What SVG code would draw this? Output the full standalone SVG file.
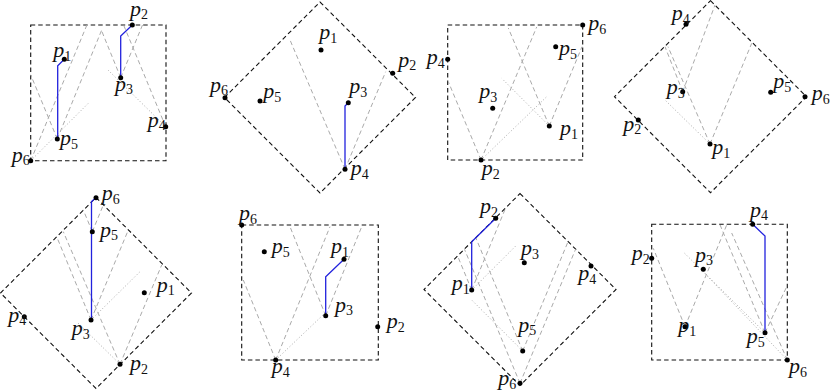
<svg xmlns="http://www.w3.org/2000/svg" width="830" height="391" viewBox="0 0 830 391">
<style>
.fr{fill:none;stroke:#111;stroke-width:1.1;stroke-dasharray:4.5 3}
.ds{fill:none;stroke:#aaa;stroke-width:1;stroke-dasharray:4.5 3}
.dt{fill:none;stroke:#aaa;stroke-width:1;stroke-dasharray:1 2.2}
.bl{fill:none;stroke:#2222dd;stroke-width:1.3}
.pt{fill:#000}
.lb{font-family:"Liberation Serif",serif;font-style:italic;font-size:22px;fill:#111}
.sub{font-style:normal;font-size:14px}
</style>
<rect width="830" height="391" fill="#fff"/>
<g id="frames">
<rect class="fr" x="30.7" y="25" width="135.3" height="135.7"/>
<polygon class="fr" points="320,2 415.5,97.5 320,193 224.5,97.5"/>
<rect class="fr" x="447.7" y="25" width="135" height="135"/>
<polygon class="fr" points="710.5,0.7 806.5,96.7 710.5,192.7 614.5,96.7"/>
<polygon class="fr" points="96,197.5 191.5,293 96,388.5 0.5,293"/>
<rect class="fr" x="241.7" y="225" width="136.6" height="135"/>
<polygon class="fr" points="520,193.5 616,289.5 520,385.5 424,289.5"/>
<rect class="fr" x="651.7" y="224.3" width="135.6" height="135.7"/>
</g>
<g id="connectors">
<path class="ds" d="M57.3,139L30.7,74.8M57.3,139L101.5,30.5M120.7,77.7L101.5,30.5M120.7,77.7L142.5,25M165.7,126.7L123.6,25M30.7,160.7L86.9,25"/>
<path class="dt" d="M30.7,160.7L88.3,103.3M165.7,126.7L108,70"/>
<path class="bl" d="M64.3,59.3L57.7,65.7L57.7,139M132.3,25L120.7,36L120.7,77.7"/>
<path class="ds" d="M345,169.3L290,40M345,169.3L385.7,71.7"/>
<path class="bl" d="M348.3,102.7L345,106L345,169.3"/>
<path class="ds" d="M481,160L448.3,81.7M481,160L536.7,27M549.3,126L508.3,28M549.3,126L582,46.7"/>
<path class="dt" d="M481,160L546.7,96.7M549.3,126L501.7,78.3"/>
<path class="ds" d="M682.7,91.7L665,46.7M682.7,91.7L715,5M710,144L668,46.7M710,144L751.7,43.3"/>
<path class="dt" d="M710,144L665,100"/>
<path class="ds" d="M91,320L56.7,236.7M91,320L128.3,230M120,364.3L63.3,231.7M120,364.3L161.7,265M92.3,231.7L83.2,209.8M92.3,231.7L103.2,205.3"/>
<path class="dt" d="M91,320L140,271.7M120,364.3L76.7,321.7"/>
<path class="bl" d="M96,197.7L91.5,201.5L91.5,320"/>
<path class="ds" d="M275.7,360L243.3,280M275.7,360L330,226.7M325.7,315.7L290,226.7M325.7,315.7L361.7,226.7"/>
<path class="dt" d="M275.7,360L324,314"/>
<path class="bl" d="M344,259.3L325.7,276.7L325.7,315.7"/>
<path class="ds" d="M520,383.3L464.5,249.3M520,383.3L575.5,249.4M522.7,351L475.9,238M522.7,351L567.9,242M471.7,290L457.6,256M471.7,290L505.6,208.1"/>
<path class="dt" d="M471.7,290L516.7,245M522.7,351L472,300.3"/>
<path class="bl" d="M495.7,218.3L471.7,241.7L471.7,290"/>
<path class="ds" d="M685,326.7L653.3,248.3M685,326.7L726.7,225M765,332.7L720.1,225M765,332.7L786.7,286.7M787.3,360L731.7,233"/>
<path class="dt" d="M765,332.7L684,252.7M787.3,360L703.5,272"/>
<path class="bl" d="M752.7,224.3L765,236L765,332.7"/>
</g>
<g id="a-p1"><circle class="pt" cx="64.3" cy="59.3" r="2.5"/><text class="lb" x="53.3" y="57">p<tspan class="sub" dy="3.5">1</tspan></text></g>
<g id="a-p2"><circle class="pt" cx="132.3" cy="25" r="2.5"/><text class="lb" x="130" y="15.5">p<tspan class="sub" dy="3.5">2</tspan></text></g>
<g id="a-p3"><circle class="pt" cx="120.7" cy="77.7" r="2.5"/><text class="lb" x="115" y="90.5">p<tspan class="sub" dy="3.5">3</tspan></text></g>
<g id="a-p4"><circle class="pt" cx="165.7" cy="126.7" r="2.5"/><text class="lb" x="147.7" y="126.7">p<tspan class="sub" dy="3.5">4</tspan></text></g>
<g id="a-p5"><circle class="pt" cx="57.3" cy="139" r="2.5"/><text class="lb" x="60" y="145">p<tspan class="sub" dy="3.5">5</tspan></text></g>
<g id="a-p6"><circle class="pt" cx="30.7" cy="160.7" r="2.5"/><text class="lb" x="11.7" y="161.7">p<tspan class="sub" dy="3.5">6</tspan></text></g>
<g id="b-p1"><circle class="pt" cx="321" cy="50" r="2.5"/><text class="lb" x="319.3" y="39">p<tspan class="sub" dy="3.5">1</tspan></text></g>
<g id="b-p2"><circle class="pt" cx="392.7" cy="73.3" r="2.5"/><text class="lb" x="398.3" y="66.7">p<tspan class="sub" dy="3.5">2</tspan></text></g>
<g id="b-p3"><circle class="pt" cx="348.3" cy="102.7" r="2.5"/><text class="lb" x="349.3" y="93.3">p<tspan class="sub" dy="3.5">3</tspan></text></g>
<g id="b-p4"><circle class="pt" cx="345" cy="169.3" r="2.5"/><text class="lb" x="350.7" y="175">p<tspan class="sub" dy="3.5">4</tspan></text></g>
<g id="b-p5"><circle class="pt" cx="260" cy="101" r="2.5"/><text class="lb" x="263.3" y="98.3">p<tspan class="sub" dy="3.5">5</tspan></text></g>
<g id="b-p6"><circle class="pt" cx="225" cy="97.7" r="2.5"/><text class="lb" x="210" y="91.7">p<tspan class="sub" dy="3.5">6</tspan></text></g>
<g id="c-p1"><circle class="pt" cx="549.3" cy="126" r="2.5"/><text class="lb" x="560" y="135">p<tspan class="sub" dy="3.5">1</tspan></text></g>
<g id="c-p2"><circle class="pt" cx="481" cy="160" r="2.5"/><text class="lb" x="481.7" y="175">p<tspan class="sub" dy="3.5">2</tspan></text></g>
<g id="c-p3"><circle class="pt" cx="492.7" cy="108.3" r="2.5"/><text class="lb" x="479.3" y="98.3">p<tspan class="sub" dy="3.5">3</tspan></text></g>
<g id="c-p4"><circle class="pt" cx="447.7" cy="59.3" r="2.5"/><text class="lb" x="426.7" y="64.3">p<tspan class="sub" dy="3.5">4</tspan></text></g>
<g id="c-p5"><circle class="pt" cx="555.7" cy="46.7" r="2.5"/><text class="lb" x="559" y="55">p<tspan class="sub" dy="3.5">5</tspan></text></g>
<g id="c-p6"><circle class="pt" cx="582.7" cy="25" r="2.5"/><text class="lb" x="588.3" y="30">p<tspan class="sub" dy="3.5">6</tspan></text></g>
<g id="d-p1"><circle class="pt" cx="710" cy="144" r="2.5"/><text class="lb" x="712.3" y="154">p<tspan class="sub" dy="3.5">1</tspan></text></g>
<g id="d-p2"><circle class="pt" cx="638.3" cy="120" r="2.5"/><text class="lb" x="623.3" y="130.7">p<tspan class="sub" dy="3.5">2</tspan></text></g>
<g id="d-p3"><circle class="pt" cx="682.7" cy="91.7" r="2.5"/><text class="lb" x="666.7" y="94">p<tspan class="sub" dy="3.5">3</tspan></text></g>
<g id="d-p4"><circle class="pt" cx="686" cy="24.3" r="2.5"/><text class="lb" x="671.7" y="20">p<tspan class="sub" dy="3.5">4</tspan></text></g>
<g id="d-p5"><circle class="pt" cx="770.7" cy="92.3" r="2.5"/><text class="lb" x="773.3" y="88.3">p<tspan class="sub" dy="3.5">5</tspan></text></g>
<g id="d-p6"><circle class="pt" cx="805" cy="96.7" r="2.5"/><text class="lb" x="811.7" y="100">p<tspan class="sub" dy="3.5">6</tspan></text></g>
<g id="e-p1"><circle class="pt" cx="144.3" cy="292.7" r="2.5"/><text class="lb" x="156.7" y="291.7">p<tspan class="sub" dy="3.5">1</tspan></text></g>
<g id="e-p2"><circle class="pt" cx="120" cy="364.3" r="2.5"/><text class="lb" x="130" y="370">p<tspan class="sub" dy="3.5">2</tspan></text></g>
<g id="e-p3"><circle class="pt" cx="91" cy="320" r="2.5"/><text class="lb" x="71.7" y="335">p<tspan class="sub" dy="3.5">3</tspan></text></g>
<g id="e-p4"><circle class="pt" cx="24.3" cy="316.7" r="2.5"/><text class="lb" x="8.3" y="321.7">p<tspan class="sub" dy="3.5">4</tspan></text></g>
<g id="e-p5"><circle class="pt" cx="92.3" cy="231.7" r="2.5"/><text class="lb" x="100" y="236.7">p<tspan class="sub" dy="3.5">5</tspan></text></g>
<g id="e-p6"><circle class="pt" cx="96" cy="197.7" r="2.5"/><text class="lb" x="101.7" y="200">p<tspan class="sub" dy="3.5">6</tspan></text></g>
<g id="f-p1"><circle class="pt" cx="344" cy="259.3" r="2.5"/><text class="lb" x="331" y="253.3">p<tspan class="sub" dy="3.5">1</tspan></text></g>
<g id="f-p2"><circle class="pt" cx="377.7" cy="326.7" r="2.5"/><text class="lb" x="386.7" y="328.3">p<tspan class="sub" dy="3.5">2</tspan></text></g>
<g id="f-p3"><circle class="pt" cx="325.7" cy="315.7" r="2.5"/><text class="lb" x="335" y="311.7">p<tspan class="sub" dy="3.5">3</tspan></text></g>
<g id="f-p4"><circle class="pt" cx="275.7" cy="360" r="2.5"/><text class="lb" x="271.7" y="373.3">p<tspan class="sub" dy="3.5">4</tspan></text></g>
<g id="f-p5"><circle class="pt" cx="264.3" cy="251.7" r="2.5"/><text class="lb" x="271.7" y="253.3">p<tspan class="sub" dy="3.5">5</tspan></text></g>
<g id="f-p6"><circle class="pt" cx="241.7" cy="225" r="2.5"/><text class="lb" x="239" y="220">p<tspan class="sub" dy="3.5">6</tspan></text></g>
<g id="g-p1"><circle class="pt" cx="471.7" cy="290" r="2.5"/><text class="lb" x="451.7" y="290">p<tspan class="sub" dy="3.5">1</tspan></text></g>
<g id="g-p2"><circle class="pt" cx="495.7" cy="218.3" r="2.5"/><text class="lb" x="480" y="213.3">p<tspan class="sub" dy="3.5">2</tspan></text></g>
<g id="g-p3"><circle class="pt" cx="524.3" cy="262.7" r="2.5"/><text class="lb" x="521" y="255">p<tspan class="sub" dy="3.5">3</tspan></text></g>
<g id="g-p4"><circle class="pt" cx="591" cy="266" r="2.5"/><text class="lb" x="578.3" y="280">p<tspan class="sub" dy="3.5">4</tspan></text></g>
<g id="g-p5"><circle class="pt" cx="522.7" cy="351" r="2.5"/><text class="lb" x="518.3" y="331.7">p<tspan class="sub" dy="3.5">5</tspan></text></g>
<g id="g-p6"><circle class="pt" cx="520" cy="383.3" r="2.5"/><text class="lb" x="498.3" y="385">p<tspan class="sub" dy="3.5">6</tspan></text></g>
<g id="h-p1"><circle class="pt" cx="685" cy="326.7" r="2.5"/><text class="lb" x="678.3" y="332">p<tspan class="sub" dy="3.5">1</tspan></text></g>
<g id="h-p2"><circle class="pt" cx="651.7" cy="258.3" r="2.5"/><text class="lb" x="631.7" y="260">p<tspan class="sub" dy="3.5">2</tspan></text></g>
<g id="h-p3"><circle class="pt" cx="703.3" cy="269.3" r="2.5"/><text class="lb" x="695" y="261.7">p<tspan class="sub" dy="3.5">3</tspan></text></g>
<g id="h-p4"><circle class="pt" cx="752.7" cy="224.3" r="2.5"/><text class="lb" x="750" y="216.7">p<tspan class="sub" dy="3.5">4</tspan></text></g>
<g id="h-p5"><circle class="pt" cx="765" cy="332.7" r="2.5"/><text class="lb" x="746.7" y="343.3">p<tspan class="sub" dy="3.5">5</tspan></text></g>
<g id="h-p6"><circle class="pt" cx="787.3" cy="360" r="2.5"/><text class="lb" x="789" y="373.3">p<tspan class="sub" dy="3.5">6</tspan></text></g>
</svg>
